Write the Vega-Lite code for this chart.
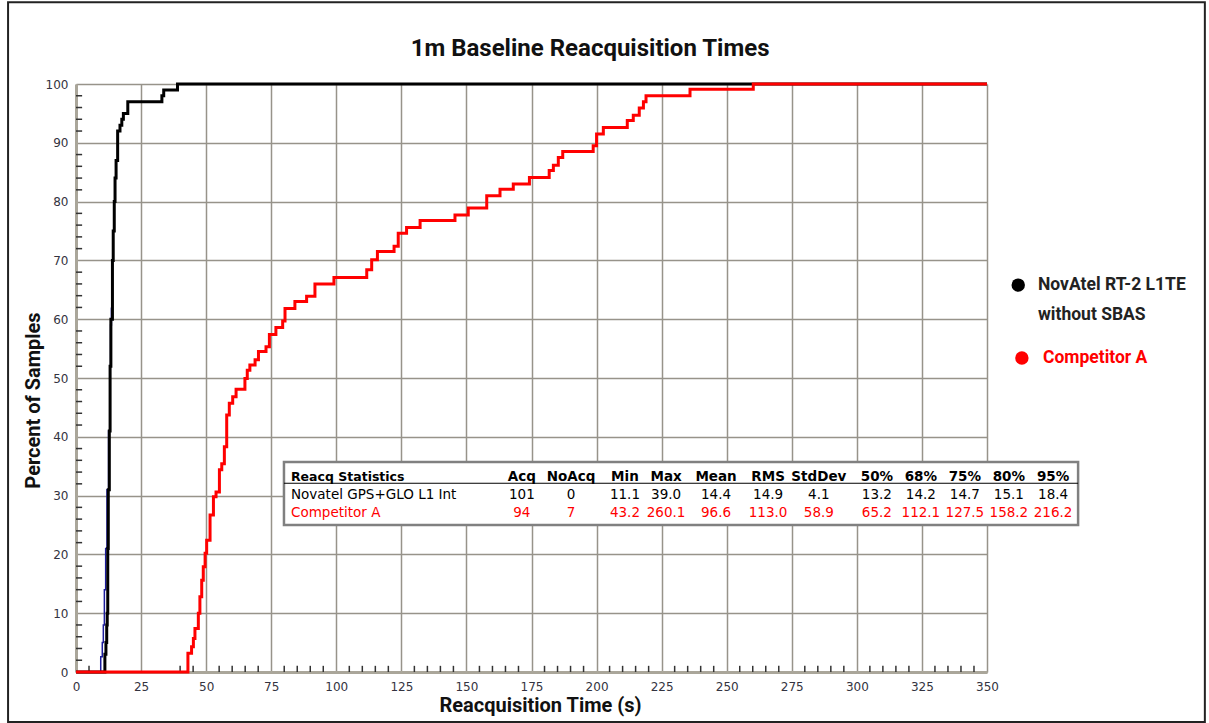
{
  "$schema": "https://vega.github.io/schema/vega-lite/v6.json",
  "width": 911,
  "height": 588,
  "autosize": {"type": "none"},
  "padding": {"left": 76, "top": 84, "right": 222, "bottom": 51},
  "background": "white",
  "config": {"view": {"stroke": null}},
  "datasets": {
    "curves": [
      {"series": "NovAtel trace 2", "t": 0, "p": 0},
      {"series": "NovAtel trace 2", "t": 9.5, "p": 2.6},
      {"series": "NovAtel trace 2", "t": 10.1, "p": 5},
      {"series": "NovAtel trace 2", "t": 10.5, "p": 8},
      {"series": "NovAtel trace 2", "t": 10.9, "p": 14},
      {"series": "NovAtel trace 2", "t": 11.4, "p": 21},
      {"series": "NovAtel trace 2", "t": 11.9, "p": 31},
      {"series": "NovAtel trace 2", "t": 12.5, "p": 41},
      {"series": "NovAtel trace 2", "t": 13.1, "p": 52},
      {"series": "NovAtel trace 2", "t": 13.3, "p": 59},
      {"series": "NovAtel trace 2", "t": 13.6, "p": 62},

      {"series": "Novatel GPS+GLO L1 Int", "t": 0, "p": 0},
      {"series": "Novatel GPS+GLO L1 Int", "t": 11.1, "p": 3},
      {"series": "Novatel GPS+GLO L1 Int", "t": 11.5, "p": 5},
      {"series": "Novatel GPS+GLO L1 Int", "t": 11.8, "p": 8},
      {"series": "Novatel GPS+GLO L1 Int", "t": 12.0, "p": 10},
      {"series": "Novatel GPS+GLO L1 Int", "t": 12.2, "p": 21},
      {"series": "Novatel GPS+GLO L1 Int", "t": 12.4, "p": 31},
      {"series": "Novatel GPS+GLO L1 Int", "t": 12.8, "p": 41},
      {"series": "Novatel GPS+GLO L1 Int", "t": 13.1, "p": 52},
      {"series": "Novatel GPS+GLO L1 Int", "t": 13.4, "p": 60},
      {"series": "Novatel GPS+GLO L1 Int", "t": 14.0, "p": 70},
      {"series": "Novatel GPS+GLO L1 Int", "t": 14.3, "p": 75},
      {"series": "Novatel GPS+GLO L1 Int", "t": 14.7, "p": 80},
      {"series": "Novatel GPS+GLO L1 Int", "t": 15.0, "p": 84},
      {"series": "Novatel GPS+GLO L1 Int", "t": 15.4, "p": 87},
      {"series": "Novatel GPS+GLO L1 Int", "t": 16.0, "p": 92},
      {"series": "Novatel GPS+GLO L1 Int", "t": 16.9, "p": 93},
      {"series": "Novatel GPS+GLO L1 Int", "t": 17.6, "p": 94},
      {"series": "Novatel GPS+GLO L1 Int", "t": 18.2, "p": 95},
      {"series": "Novatel GPS+GLO L1 Int", "t": 19.9, "p": 97},
      {"series": "Novatel GPS+GLO L1 Int", "t": 33.0, "p": 98},
      {"series": "Novatel GPS+GLO L1 Int", "t": 33.7, "p": 99},
      {"series": "Novatel GPS+GLO L1 Int", "t": 39.0, "p": 100},
      {"series": "Novatel GPS+GLO L1 Int", "t": 350, "p": 100},

      {"series": "Competitor A", "t": 0, "p": 0},
      {"series": "Competitor A", "t": 43.0, "p": 3.2},
      {"series": "Competitor A", "t": 44.4, "p": 4.3},
      {"series": "Competitor A", "t": 45.1, "p": 5.7},
      {"series": "Competitor A", "t": 45.7, "p": 7.4},
      {"series": "Competitor A", "t": 47.0, "p": 10.0},
      {"series": "Competitor A", "t": 47.6, "p": 12.8},
      {"series": "Competitor A", "t": 48.3, "p": 15.6},
      {"series": "Competitor A", "t": 48.9, "p": 17.9},
      {"series": "Competitor A", "t": 49.6, "p": 20.2},
      {"series": "Competitor A", "t": 50.2, "p": 22.4},
      {"series": "Competitor A", "t": 51.5, "p": 26.7},
      {"series": "Competitor A", "t": 52.8, "p": 29.8},
      {"series": "Competitor A", "t": 53.8, "p": 30.6},
      {"series": "Competitor A", "t": 55.1, "p": 34.4},
      {"series": "Competitor A", "t": 56.0, "p": 35.4},
      {"series": "Competitor A", "t": 57.0, "p": 38.3},
      {"series": "Competitor A", "t": 57.9, "p": 43.7},
      {"series": "Competitor A", "t": 58.9, "p": 45.7},
      {"series": "Competitor A", "t": 60.2, "p": 46.8},
      {"series": "Competitor A", "t": 61.5, "p": 48.1},
      {"series": "Competitor A", "t": 64.9, "p": 49.9},
      {"series": "Competitor A", "t": 65.8, "p": 51.3},
      {"series": "Competitor A", "t": 66.8, "p": 52.2},
      {"series": "Competitor A", "t": 68.8, "p": 53.1},
      {"series": "Competitor A", "t": 70.1, "p": 54.5},
      {"series": "Competitor A", "t": 73.0, "p": 55.3},
      {"series": "Competitor A", "t": 74.3, "p": 57.4},
      {"series": "Competitor A", "t": 76.8, "p": 58.6},
      {"series": "Competitor A", "t": 79.4, "p": 59.7},
      {"series": "Competitor A", "t": 80.3, "p": 61.8},
      {"series": "Competitor A", "t": 84.1, "p": 63.0},
      {"series": "Competitor A", "t": 88.6, "p": 63.9},
      {"series": "Competitor A", "t": 91.8, "p": 66.0},
      {"series": "Competitor A", "t": 99.1, "p": 67.1},
      {"series": "Competitor A", "t": 111.7, "p": 68.4},
      {"series": "Competitor A", "t": 113.6, "p": 70.1},
      {"series": "Competitor A", "t": 115.8, "p": 71.5},
      {"series": "Competitor A", "t": 122.2, "p": 72.4},
      {"series": "Competitor A", "t": 123.8, "p": 74.6},
      {"series": "Competitor A", "t": 127.0, "p": 75.6},
      {"series": "Competitor A", "t": 132.2, "p": 76.8},
      {"series": "Competitor A", "t": 145.6, "p": 77.7},
      {"series": "Competitor A", "t": 150.7, "p": 78.9},
      {"series": "Competitor A", "t": 157.8, "p": 81.0},
      {"series": "Competitor A", "t": 162.9, "p": 82.1},
      {"series": "Competitor A", "t": 168.0, "p": 83.0},
      {"series": "Competitor A", "t": 174.2, "p": 84.1},
      {"series": "Competitor A", "t": 181.8, "p": 85.3},
      {"series": "Competitor A", "t": 183.4, "p": 86.2},
      {"series": "Competitor A", "t": 185.3, "p": 87.5},
      {"series": "Competitor A", "t": 187.0, "p": 88.5},
      {"series": "Competitor A", "t": 198.7, "p": 89.5},
      {"series": "Competitor A", "t": 200.0, "p": 91.5},
      {"series": "Competitor A", "t": 202.6, "p": 92.6},
      {"series": "Competitor A", "t": 211.8, "p": 93.8},
      {"series": "Competitor A", "t": 214.1, "p": 94.7},
      {"series": "Competitor A", "t": 216.4, "p": 95.9},
      {"series": "Competitor A", "t": 218.0, "p": 97.0},
      {"series": "Competitor A", "t": 219.0, "p": 98.0},
      {"series": "Competitor A", "t": 235.9, "p": 99.1},
      {"series": "Competitor A", "t": 260.2, "p": 100},
      {"series": "Competitor A", "t": 350, "p": 100}
    ],
    "minorX": [
      {"t": 5}, {"t": 40}, {"t": 45},
      {"t": 55}, {"t": 60}, {"t": 65}, {"t": 70}, {"t": 80}, {"t": 85}, {"t": 90}, {"t": 95},
      {"t": 105}, {"t": 110}, {"t": 115}, {"t": 120}, {"t": 130}, {"t": 135}, {"t": 140}, {"t": 145},
      {"t": 155}, {"t": 160}, {"t": 165}, {"t": 170}, {"t": 180}, {"t": 185}, {"t": 190}, {"t": 195},
      {"t": 205}, {"t": 210}, {"t": 215}, {"t": 220}, {"t": 230}, {"t": 235}, {"t": 240}, {"t": 245},
      {"t": 255}, {"t": 260}, {"t": 265}, {"t": 270}, {"t": 280}, {"t": 285}, {"t": 290}, {"t": 295},
      {"t": 305}, {"t": 310}, {"t": 315}, {"t": 320}, {"t": 330}, {"t": 335}, {"t": 340}, {"t": 345}
    ],
    "minorY": [
      {"p": 2}, {"p": 4}, {"p": 6}, {"p": 8}, {"p": 12}, {"p": 14}, {"p": 16}, {"p": 18},
      {"p": 22}, {"p": 24}, {"p": 26}, {"p": 28}, {"p": 32}, {"p": 34}, {"p": 36}, {"p": 38},
      {"p": 42}, {"p": 44}, {"p": 46}, {"p": 48}, {"p": 52}, {"p": 54}, {"p": 56}, {"p": 58},
      {"p": 62}, {"p": 64}, {"p": 66}, {"p": 68}, {"p": 72}, {"p": 74}, {"p": 76}, {"p": 78},
      {"p": 82}, {"p": 84}, {"p": 86}, {"p": 88}, {"p": 92}, {"p": 94}, {"p": 96}, {"p": 98}
    ],
    "stats": [
      {"series": "Reacq Statistics", "Acq": "Acq", "NoAcq": "NoAcq", "Min": "Min", "Max": "Max", "Mean": "Mean", "RMS": "RMS", "StdDev": "StdDev", "p50": "50%", "p68": "68%", "p75": "75%", "p80": "80%", "p95": "95%"},
      {"series": "Novatel GPS+GLO L1 Int", "Acq": "101", "NoAcq": "0", "Min": "11.1", "Max": "39.0", "Mean": "14.4", "RMS": "14.9", "StdDev": "4.1", "p50": "13.2", "p68": "14.2", "p75": "14.7", "p80": "15.1", "p95": "18.4"},
      {"series": "Competitor A", "Acq": "94", "NoAcq": "7", "Min": "43.2", "Max": "260.1", "Mean": "96.6", "RMS": "113.0", "StdDev": "58.9", "p50": "65.2", "p68": "112.1", "p75": "127.5", "p80": "158.2", "p95": "216.2"}
    ]
  },
  "layer": [
    {
      "layer": [
        {
          "data": {"name": "minorX"},
          "mark": {"type": "rule", "color": "#333333", "strokeWidth": 1.5},
          "encoding": {
            "x": {
              "field": "t", "type": "quantitative",
              "scale": {"domain": [0, 350], "nice": false, "zero": false},
              "axis": {
                "values": [0, 25, 50, 75, 100, 125, 150, 175, 200, 225, 250, 275, 300, 325, 350],
                "title": "Reacquisition Time (s)",
                "titleFont": "Roboto",
                "titleFontSize": 20,
                "titleFontWeight": "bold",
                "titleColor": "#111111",
                "titleX": 464,
                "titleY": 33,
                "titleAlign": "center",
                "titleBaseline": "middle",
                "labelFont": "DejaVu Sans",
                "labelFontSize": 12,
                "labelColor": "#333340",
                "labelPadding": 9,
                "labelFlush": false,
                "labelOverlap": false,
                "ticks": false,
                "grid": true,
                "gridColor": "#97938a",
                "gridWidth": 1.5,
                "domainColor": "#aaa69a",
                "domainWidth": 3
              }
            },
            "y": {"datum": 0, "type": "quantitative", "scale": {"domain": [0, 100], "nice": false, "zero": false},
              "axis": {
                "values": [0, 10, 20, 30, 40, 50, 60, 70, 80, 90, 100],
                "title": "Percent of Samples",
                "titleFont": "Roboto",
                "titleFontSize": 20,
                "titleFontWeight": "bold",
                "titleColor": "#111111",
                "titleX": -43,
                "titleY": 316,
                "titleAlign": "center",
                "titleBaseline": "middle",
                "labelFont": "DejaVu Sans",
                "labelFontSize": 12,
                "labelColor": "#333340",
                "labelPadding": 8,
                "labelOverlap": false,
                "ticks": false,
                "grid": true,
                "gridColor": "#97938a",
                "gridWidth": 1.5,
                "domainColor": "#aaa69a",
                "domainWidth": 3
              }
            },
            "y2": {"datum": 1.05}
          }
        },
        {
          "data": {"name": "minorY"},
          "mark": {"type": "rule", "color": "#333333", "strokeWidth": 1.5},
          "encoding": {
            "y": {"field": "p", "type": "quantitative"},
            "x": {"datum": 0},
            "x2": {"datum": 2.35}
          }
        },
        {
          "data": {"name": "curves"},
          "transform": [{"filter": "datum.series === 'NovAtel trace 2'"}],
          "mark": {"type": "line", "interpolate": "step-after", "color": "#1c1c9c", "strokeWidth": 1.5},
          "encoding": {
            "x": {"field": "t", "type": "quantitative"},
            "y": {"field": "p", "type": "quantitative"}
          }
        },
        {
          "data": {"name": "curves"},
          "transform": [{"filter": "datum.series === 'Novatel GPS+GLO L1 Int'"}],
          "mark": {"type": "line", "interpolate": "step-after", "color": "#000000", "strokeWidth": 3},
          "encoding": {
            "x": {"field": "t", "type": "quantitative"},
            "y": {"field": "p", "type": "quantitative"}
          }
        },
        {
          "data": {"name": "curves"},
          "transform": [{"filter": "datum.series === 'Competitor A'"}],
          "mark": {"type": "line", "interpolate": "step-after", "color": "#ff0000", "strokeWidth": 3},
          "encoding": {
            "x": {"field": "t", "type": "quantitative"},
            "y": {"field": "p", "type": "quantitative"}
          }
        },
        {
          "data": {"values": [{}]},
          "mark": {"type": "rect", "fill": "#ffffff", "stroke": "#808080", "strokeWidth": 2.5},
          "encoding": {"x": {"datum": 79.9}, "x2": {"datum": 385}, "y": {"datum": 35.7}, "y2": {"datum": 25.0}}
        },
        {
          "data": {"values": [{}]},
          "mark": {"type": "rule", "color": "#000000", "strokeWidth": 1},
          "encoding": {"x": {"datum": 79.9}, "x2": {"datum": 385}, "y": {"datum": 32.1}}
        },
        {
          "data": {"values": [{}]},
          "mark": {"type": "text", "text": "1m Baseline Reacquisition Times", "align": "center", "baseline": "alphabetic", "font": "Roboto", "fontSize": 24, "fontWeight": "bold", "color": "#111111"},
          "encoding": {"x": {"datum": 197.5}, "y": {"datum": 104.8}}
        },
        {
          "data": {"values": [{}]},
          "mark": {"type": "point", "filled": true, "size": 180, "color": "#000000", "opacity": 1},
          "encoding": {"x": {"datum": 362.0}, "y": {"datum": 65.8}}
        },
        {
          "data": {"values": [{}]},
          "mark": {"type": "point", "filled": true, "size": 180, "color": "#ff0000", "opacity": 1},
          "encoding": {"x": {"datum": 363.4}, "y": {"datum": 53.4}}
        },
        {
          "data": {"values": [{}]},
          "mark": {"type": "text", "text": "NovAtel RT-2 L1TE", "align": "left", "baseline": "middle", "font": "Roboto", "fontSize": 17.5, "fontWeight": "bold", "color": "#222222"},
          "encoding": {"x": {"datum": 369.6}, "y": {"datum": 65.8}}
        },
        {
          "data": {"values": [{}]},
          "mark": {"type": "text", "text": "without SBAS", "align": "left", "baseline": "middle", "font": "Roboto", "fontSize": 17.5, "fontWeight": "bold", "color": "#222222"},
          "encoding": {"x": {"datum": 369.6}, "y": {"datum": 60.7}}
        },
        {
          "data": {"values": [{}]},
          "mark": {"type": "text", "text": "Competitor A", "align": "left", "baseline": "middle", "font": "Roboto", "fontSize": 17.5, "fontWeight": "bold", "color": "#ff0000"},
          "encoding": {"x": {"datum": 371.5}, "y": {"datum": 53.4}}
        },
        {
          "data": {"values": [{}]},
          "mark": {"type": "rect", "fill": null, "fillOpacity": 0, "stroke": "#222222", "strokeWidth": 2},
          "encoding": {"x": {"datum": -26.1}, "x2": {"datum": 433.7}, "y": {"datum": 113.9}, "y2": {"datum": -8.5}}
        }
      ]
    },
    {
      "data": {"name": "stats"},
      "encoding": {
        "y": {"field": "series", "type": "nominal", "scale": {"type": "point", "domain": ["Reacq Statistics", "Novatel GPS+GLO L1 Int", "Competitor A"], "range": [393, 429], "padding": 0}, "axis": null},
        "color": {"field": "series", "type": "nominal", "scale": {"domain": ["Reacq Statistics", "Novatel GPS+GLO L1 Int", "Competitor A"], "range": ["#000000", "#000000", "#ff0000"]}, "legend": null}
      },
      "layer": [
        {"mark": {"type": "text", "align": "left", "baseline": "middle", "font": "DejaVu Sans", "fontSize": {"expr": "datum.series === 'Reacq Statistics' ? 12.5 : 13.5"}, "fontWeight": {"expr": "datum.series === 'Reacq Statistics' ? 'bold' : 'normal'"}}, "encoding": {"x": {"datum": 82.6}, "text": {"field": "series"}}},
        {"mark": {"type": "text", "align": "center", "baseline": "middle", "font": "DejaVu Sans", "fontSize": 13.5, "fontWeight": {"expr": "datum.series === 'Reacq Statistics' ? 'bold' : 'normal'"}}, "encoding": {"x": {"datum": 171.3}, "text": {"field": "Acq"}}},
        {"mark": {"type": "text", "align": "center", "baseline": "middle", "font": "DejaVu Sans", "fontSize": 13.5, "fontWeight": {"expr": "datum.series === 'Reacq Statistics' ? 'bold' : 'normal'"}}, "encoding": {"x": {"datum": 190.2}, "text": {"field": "NoAcq"}}},
        {"mark": {"type": "text", "align": "center", "baseline": "middle", "font": "DejaVu Sans", "fontSize": 13.5, "fontWeight": {"expr": "datum.series === 'Reacq Statistics' ? 'bold' : 'normal'"}}, "encoding": {"x": {"datum": 210.9}, "text": {"field": "Min"}}},
        {"mark": {"type": "text", "align": "center", "baseline": "middle", "font": "DejaVu Sans", "fontSize": 13.5, "fontWeight": {"expr": "datum.series === 'Reacq Statistics' ? 'bold' : 'normal'"}}, "encoding": {"x": {"datum": 226.7}, "text": {"field": "Max"}}},
        {"mark": {"type": "text", "align": "center", "baseline": "middle", "font": "DejaVu Sans", "fontSize": 13.5, "fontWeight": {"expr": "datum.series === 'Reacq Statistics' ? 'bold' : 'normal'"}}, "encoding": {"x": {"datum": 245.9}, "text": {"field": "Mean"}}},
        {"mark": {"type": "text", "align": "center", "baseline": "middle", "font": "DejaVu Sans", "fontSize": 13.5, "fontWeight": {"expr": "datum.series === 'Reacq Statistics' ? 'bold' : 'normal'"}}, "encoding": {"x": {"datum": 265.9}, "text": {"field": "RMS"}}},
        {"mark": {"type": "text", "align": "center", "baseline": "middle", "font": "DejaVu Sans", "fontSize": 13.5, "fontWeight": {"expr": "datum.series === 'Reacq Statistics' ? 'bold' : 'normal'"}}, "encoding": {"x": {"datum": 285.4}, "text": {"field": "StdDev"}}},
        {"mark": {"type": "text", "align": "center", "baseline": "middle", "font": "DejaVu Sans", "fontSize": 13.5, "fontWeight": {"expr": "datum.series === 'Reacq Statistics' ? 'bold' : 'normal'"}}, "encoding": {"x": {"datum": 307.7}, "text": {"field": "p50"}}},
        {"mark": {"type": "text", "align": "center", "baseline": "middle", "font": "DejaVu Sans", "fontSize": 13.5, "fontWeight": {"expr": "datum.series === 'Reacq Statistics' ? 'bold' : 'normal'"}}, "encoding": {"x": {"datum": 324.6}, "text": {"field": "p68"}}},
        {"mark": {"type": "text", "align": "center", "baseline": "middle", "font": "DejaVu Sans", "fontSize": 13.5, "fontWeight": {"expr": "datum.series === 'Reacq Statistics' ? 'bold' : 'normal'"}}, "encoding": {"x": {"datum": 341.5}, "text": {"field": "p75"}}},
        {"mark": {"type": "text", "align": "center", "baseline": "middle", "font": "DejaVu Sans", "fontSize": 13.5, "fontWeight": {"expr": "datum.series === 'Reacq Statistics' ? 'bold' : 'normal'"}}, "encoding": {"x": {"datum": 358.4}, "text": {"field": "p80"}}},
        {"mark": {"type": "text", "align": "center", "baseline": "middle", "font": "DejaVu Sans", "fontSize": 13.5, "fontWeight": {"expr": "datum.series === 'Reacq Statistics' ? 'bold' : 'normal'"}}, "encoding": {"x": {"datum": 375.4}, "text": {"field": "p95"}}}
      ]
    }
  ],
  "resolve": {"scale": {"y": "independent", "color": "independent"}}
}
